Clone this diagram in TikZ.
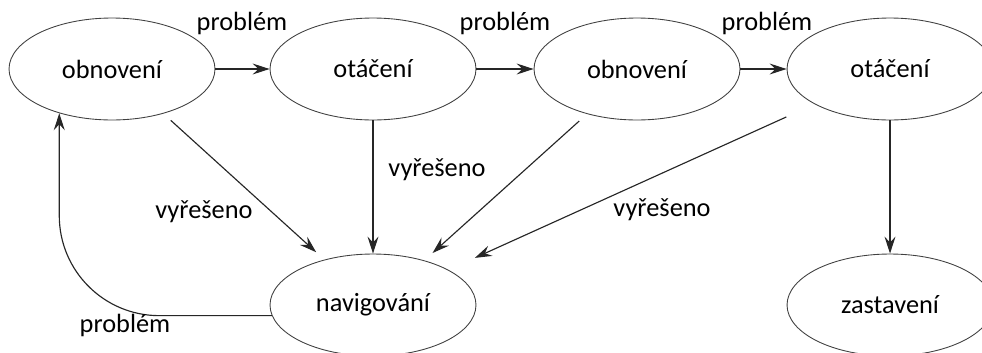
\documentclass[tikz,border=0pt]{standalone}
\usepackage{fontspec}
\setmainfont{Carlito}
\usetikzlibrary{shapes.geometric,arrows.meta}

\tikzset{
  state/.style={ellipse, draw=black!75, line width=0.5pt, minimum width=4.12cm,
    minimum height=2.04cm, inner sep=0pt, font=\fontsize{15}{18}\selectfont},
  lbl/.style={font=\fontsize{15}{18}\selectfont, inner sep=0pt},
  arr/.style={draw=black!85, line width=0.65pt,
    -{Stealth[length=0.34cm, width=0.22cm, inset=0.12cm]}}
}

\begin{document}
\begin{tikzpicture}[x=0.02cm, y=-0.02cm]
\useasboundingbox (0,0) rectangle (982,352);
% states in the top row
\node[state] (obn1) at (112,69) {obnovení};
\node[state] (ota1) at (373,69) {otáčení};
\node[state] (obn2) at (637,69) {obnovení};
\node[state] (ota2) at (890,69) {otáčení};
% states in the bottom row
\node[state] (nav) at (373,305) {navigování};
\node[state] (zast) at (890,305) {zastavení};

% problem arrows along the top
\draw[arr] (obn1) -- (ota1);
\draw[arr] (ota1) -- (obn2);
\draw[arr] (obn2) -- (ota2);

% solved arrows down to navigation
\draw[arr, shorten <=0.2cm, shorten >=0.22cm] (obn1.-41) -- (nav.137);
\draw[arr] (ota1.south) -- (nav.north);
\draw[arr, shorten <=0.21cm, shorten >=0.22cm] (obn2.-138) -- (nav.41);
\draw[arr, shorten <=0.62cm, shorten >=0.58cm] (ota2.-155) -- (nav.25);
\draw[arr] (ota2.south) -- (zast.north);

% back to the start
\draw[arr, rounded corners=2cm] (nav.186) -| (obn1.-140);

% labels
\node[lbl] (lp1) at (242,23) {problém};
\node[lbl] (lp2) at (505,23) {problém};
\node[lbl] (lp3) at (767,23) {problém};
\node[lbl] (lv1) at (204,212) {vyřešeno};
\node[lbl] (lv2) at (437,170) {vyřešeno};
\node[lbl] (lv3) at (662,210) {vyřešeno};
\node[lbl] (lp4) at (125,325) {problém};
\end{tikzpicture}
\end{document}
